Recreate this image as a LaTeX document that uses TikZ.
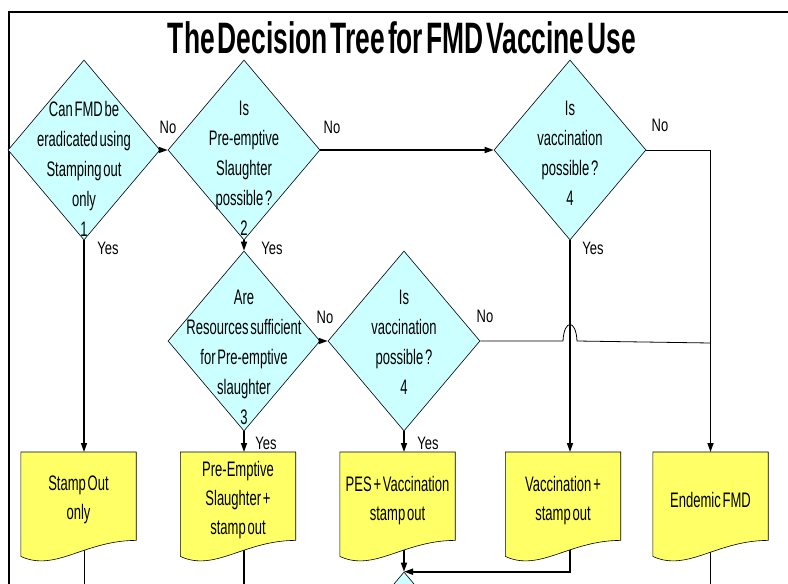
\documentclass[tikz,border=0pt]{standalone}
\usepackage{fontspec}
\setmainfont[FakeStretch=0.62,WordSpace=0.5]{Liberation Sans}
\newfontfamily\titlefont[FakeStretch=0.6,WordSpace=0.4]{Liberation Sans}
\newfontfamily\answerfont[FakeStretch=0.72]{Liberation Sans}
\usetikzlibrary{shapes.geometric,arrows.meta,calc,backgrounds}
\definecolor{querycyan}{HTML}{CCFFFF}
\definecolor{docyellow}{HTML}{FFFF66}
\tikzset{
  query/.style={diamond,draw,fill=querycyan,line width=0.6pt,minimum width=152pt,minimum height=180pt,inner sep=0pt},
  qtext/.style={anchor=north,align=center,inner sep=0pt,font=\fontsize{21}{30}\selectfont},
  docbox/.style={anchor=north,minimum width=115pt,minimum height=96pt,inner sep=0pt,align=center,font=\fontsize{21}{29}\selectfont},
  docline/.style={draw,fill=docyellow,line width=0.6pt},
  answer/.style={inner sep=0pt,font=\answerfont\fontsize{18}{18}\selectfont},
  flow/.style={line width=1.6pt,-{Triangle[length=9pt,width=6pt]}},
  link/.style={line width=0.8pt}
}
\begin{document}
\begin{tikzpicture}[x=1pt,y=-1pt]
\useasboundingbox (0,0) rectangle (788,584);
% frame and title
\draw[line width=1.6pt] (9,584) -- (9,12) -- (788,12);
\node[font=\titlefont\bfseries\fontsize{44}{44}\selectfont] (title) at (402,38) {The Decision Tree for FMD Vaccine Use};

% questions
\node[query] (d1) at (84,150) {};
\node[query] (d2) at (244,150) {};
\node[query] (d4a) at (570,150) {};
\node[query] (d3) at (244,341) {};
\node[query] (d4b) at (404,341) {};
\node[query] (d5) at (404,662) {};
\node[qtext] (d1-q) at ([yshift=-41pt]d1.north) {Can FMD be\\eradicated using\\Stamping out\\only\\1};
\node[qtext] (d2-q) at ([yshift=-41pt]d2.north) {Is\\Pre-emptive\\Slaughter\\possible ?\\2};
\node[qtext] (d4a-q) at ([yshift=-41pt]d4a.north) {Is\\vaccination\\possible ?\\4};
\node[qtext] (d3-q) at ([yshift=-39pt]d3.north) {Are\\Resources sufficient\\for Pre-emptive\\slaughter\\3};
\node[qtext] (d4b-q) at ([yshift=-39pt]d4b.north) {Is\\vaccination\\possible ?\\4};

% outcomes
\node[docbox] (b1) at (78.5,452) {Stamp Out\\only};
\node[docbox] (b2) at (238,452) {Pre-Emptive\\Slaughter +\\stamp out};
\node[docbox] (b3) at (397.5,452) {PES + Vaccination\\stamp out};
\node[docbox] (b4) at (563,452) {Vaccination +\\stamp out};
\node[docbox] (b5) at (710.5,452) {Endemic FMD};

% answers
\node[answer] (d1-no) at (168,127) {No};
\node[answer] (d2-no) at (332,127) {No};
\node[answer] (d4a-no) at (660,125) {No};
\node[answer] (d1-yes) at (108,248) {Yes};
\node[answer] (d2-yes) at (272,248) {Yes};
\node[answer] (d4a-yes) at (593,248) {Yes};
\node[answer] (d3-no) at (325,317) {No};
\node[answer] (d4b-no) at (485,316) {No};
\node[answer] (d3-yes) at (266,443) {Yes};
\node[answer] (d4b-yes) at (428,443) {Yes};

% connectors
\draw[flow] (d1.east) -- (d2.west);
\draw[flow] (d2.east) -- (d4a.west);
\draw[link] (d4a.east) -- (d4a.east -| b5.north);
\draw[flow] (d4a.east -| b5.north) -- (b5.north);
\draw[flow] (d1.south) -- (d1.south |- b1.north);
\draw[flow] (d2.south) -- (d3.north);
\draw[flow] (d4a.south) -- (d4a.south |- b4.north);
\draw[flow] (d3.east) -- (d4b.west);
\draw[link] (d4b.east) -- ([xshift=-7pt]d4a.south |- d4b.east)
  .. controls +(1,-22) and +(-1,-22) .. ([xshift=7pt]d4a.south |- d4b.east)
  -- ([yshift=-2pt]b5.north |- d4b.east);
\draw[flow] (d3.south) -- (d3.south |- b2.north);
\draw[flow] (d4b.south) -- (d4b.south |- b3.north);

\begin{scope}[on background layer]
  \draw[link] (d1.south |- b1.south) -- (d1.south |- 0,584);
  \draw[line width=1.6pt] (d2.south |- b2.south) -- (d2.south |- 0,584);
  \draw[line width=1.6pt] (b5.south) -- (b5.south |- 0,584);
  \draw[flow] (d4b.south |- b3.south) -- (d5.north);
  \draw[flow] (d4a.south |- b4.south) |- (d5.north);
  \foreach \b in {b1,b2,b3,b4,b5}
    \draw[docline] (\b.north west) -- (\b.north east) -- ([yshift=8pt]\b.south east)
      .. controls ($(\b.south west)!0.55!(\b.south east)+(0,-8)$)
      and ($(\b.south west)!0.3!(\b.south east)+(0,24)$)
      .. ([yshift=-8pt]\b.south west) -- cycle;
\end{scope}
\end{tikzpicture}
\end{document}
